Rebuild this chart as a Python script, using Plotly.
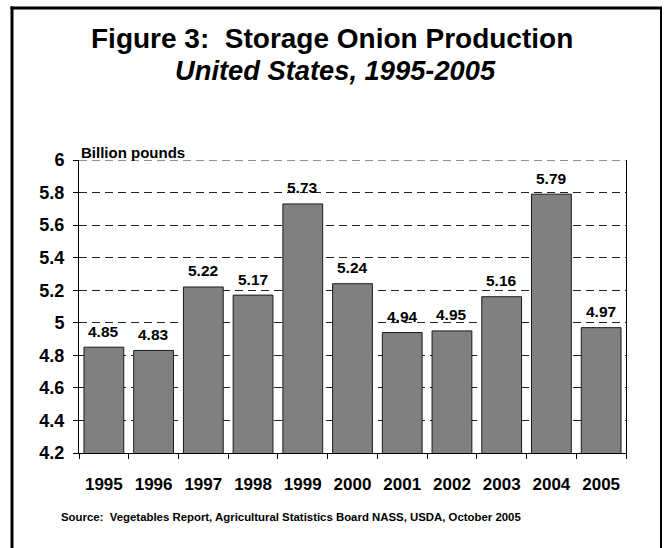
import plotly.graph_objects as go

years = ["1995", "1996", "1997", "1998", "1999", "2000", "2001", "2002", "2003", "2004", "2005"]
production = [4.85, 4.83, 5.22, 5.17, 5.73, 5.24, 4.94, 4.95, 5.16, 5.79, 4.97]
y_ticks = [4.2, 4.4, 4.6, 4.8, 5.0, 5.2, 5.4, 5.6, 5.8, 6.0]
y_tick_labels = ["4.2", "4.4", "4.6", "4.8", "5", "5.2", "5.4", "5.6", "5.8", "6"]

FONT = "Liberation Sans, Arial, sans-serif"

fig = go.Figure(go.Bar(
    x=years, y=production,
    marker=dict(color="#808080", line=dict(color="#1a1a1a", width=1)),
    width=0.8,
))

L, R, T, B = 79, 39, 160, 95
W, H = 665, 548
pw, ph = W - L - R, H - T - B

def px(x):
    return (x - L) / pw

def py(y):
    return (H - B - y) / ph

annotations = [
    dict(x=i, y=v, xref="x", yref="y", text=f"<b>{v:.2f}</b>", showarrow=False,
         xanchor="center", yanchor="middle", yshift=16,
         font=dict(family=FONT, size=15.5, color="black"))
    for i, v in enumerate(production)
]
annotations += [
    dict(text="<b>Figure 3:  Storage Onion Production</b>", x=px(332), y=py(38),
         xref="paper", yref="paper", showarrow=False, xanchor="center", yanchor="middle",
         font=dict(family=FONT, size=28, color="black")),
    dict(text="<b><i>United States, 1995-2005</i></b>", x=px(335), y=py(70),
         xref="paper", yref="paper", showarrow=False, xanchor="center", yanchor="middle",
         font=dict(family=FONT, size=27.3, color="black")),
    dict(text="<b>Billion pounds</b>", x=px(79), y=py(152),
         xref="paper", yref="paper", showarrow=False, xanchor="left", yanchor="middle",
         font=dict(family=FONT, size=15, color="black")),
    dict(text="<b>Source:  Vegetables Report, Agricultural Statistics Board NASS, USDA, October 2005</b>",
         x=px(59), y=py(517), xref="paper", yref="paper", showarrow=False,
         xanchor="left", yanchor="middle",
         font=dict(family=FONT, size=11.4, color="black")),
]

fig.update_layout(
    width=W, height=H,
    margin=dict(l=L, r=R, t=T, b=B),
    paper_bgcolor="white", plot_bgcolor="white",
    font=dict(family=FONT, color="black"),
    showlegend=False,
    xaxis=dict(
        type="category", showline=True, linecolor="black", linewidth=1,
        tickvals=years, ticktext=[f"<b>{y}</b>" for y in years],
        ticks="outside", tickson="boundaries", ticklen=5, tickcolor="black",
        tickfont=dict(family=FONT, size=17, color="black"),
        ticklabelstandoff=16,
        showgrid=False, tickangle=0,
    ),
    yaxis=dict(
        range=[4.2, 6.0], tickvals=y_ticks, ticktext=[f"<b>{t}</b>" for t in y_tick_labels],
        showline=True, linecolor="black", linewidth=1, mirror=True,
        ticks="outside", ticklen=5, tickcolor="black",
        tickfont=dict(family=FONT, size=18, color="black"),
        ticklabelstandoff=5,
        showgrid=True, gridcolor="#222222", gridwidth=1, griddash="8px,5px",
        zeroline=False,
    ),
    annotations=annotations,
    shapes=[
        dict(type="line", xref="paper", yref="y", x0=0, x1=1, y0=6.0, y1=6.0,
             line=dict(color="#222222", width=1, dash="8px,5px"), layer="below"),
        dict(type="line", xref="paper", yref="paper", x0=px(12), x1=px(12), y0=py(6.5), y1=py(560),
             line=dict(color="black", width=3)),
        dict(type="line", xref="paper", yref="paper", x0=px(10.5), x1=px(662), y0=py(8), y1=py(8),
             line=dict(color="black", width=3)),
        dict(type="line", xref="paper", yref="paper", x0=px(661), x1=px(661), y0=py(7), y1=py(560),
             line=dict(color="black", width=2)),
    ],
)

fig.write_html("out.html", config={"displayModeBar": False},
               post_script="document.body.style.margin='0';document.body.style.overflow='hidden';")
